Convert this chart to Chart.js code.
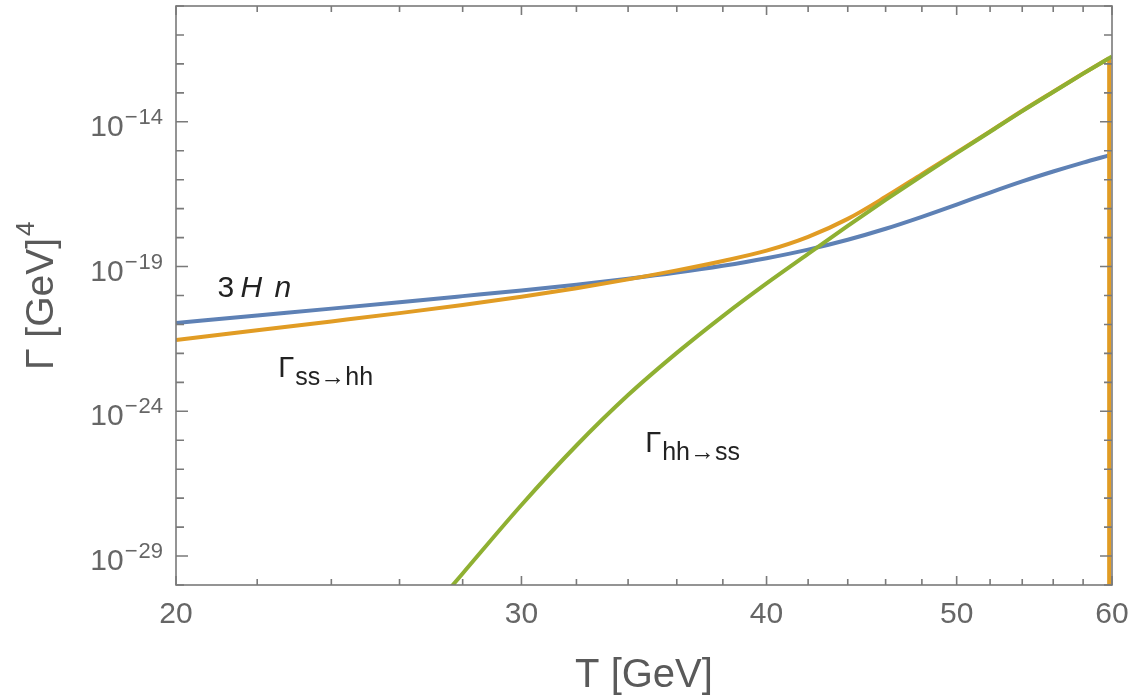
<!DOCTYPE html>
<html>
<head>
<meta charset="utf-8">
<title>Gamma vs T</title>
<script src="https://cdn.jsdelivr.net/npm/chart.js@4.4.0/dist/chart.umd.min.js"></script>
<style>
    html, body { margin: 0; padding: 0; background: #fff; }
    #rate-chart { display: block; }
</style>
</head>
<body>
<canvas id="rate-chart" width="1130" height="700"></canvas>
<script>
// T in GeV, rates in GeV^4
var tHubble = [20, 22, 24, 26, 28, 30, 32, 34, 36, 38, 40, 42, 44, 46, 48, 50, 52, 54, 56, 58, 59.8];
var rateHubble = [1.12e-21, 2.04e-21, 3.52e-21, 5.86e-21, 9.51e-21, 1.50e-20, 2.37e-20, 3.78e-20, 6.18e-20, 1.06e-19,
    1.94e-19, 3.85e-19, 8.43e-19, 2.02e-18, 5.22e-18, 1.38e-17, 3.61e-17, 8.75e-17, 1.92e-16, 3.91e-16, 6.95e-16];

var tSsHh = [20, 22, 24, 26, 28, 30, 32, 34, 36, 38, 40, 42, 44, 46, 48, 50, 52, 54, 56, 58, 59.8];
var rateSsHh = [2.92e-22, 6.25e-22, 1.27e-21, 2.46e-21, 4.69e-21, 9.08e-21, 1.79e-20, 3.60e-20, 7.36e-20, 1.56e-19,
    3.53e-19, 1.06e-18, 4.44e-18, 2.56e-17, 1.55e-16, 8.75e-16, 4.66e-15, 2.40e-14, 1.09e-13, 4.63e-13, 1.58e-12];
// the ss->hh curve falls straight down at its end
var tSsHhDrop = [59.8, 59.8];
var rateSsHhDrop = [1.58e-12, 1e-32];

var tHhSs = [27, 28, 30, 32, 34, 36, 38, 40, 42, 44, 46, 48, 50, 52, 54, 56, 58, 60];
var rateHhSs = [1.40e-31, 2.51e-30, 5.82e-28, 6.58e-26, 3.63e-24, 1.04e-22, 1.95e-21, 2.62e-20, 2.74e-19, 2.54e-18,
    2.01e-17, 1.37e-16, 8.28e-16, 4.55e-15, 2.34e-14, 1.07e-13, 4.60e-13, 1.81e-12];

var xTicks = [20, 22, 24, 26, 28, 30, 32, 34, 36, 38, 40, 42, 44, 46, 48, 50, 52, 54, 56, 58, 60];
var xLabels = [20, 30, 40, 50, 60];
var yTicks = [1e-30, 1e-29, 1e-28, 1e-27, 1e-26, 1e-25, 1e-24, 1e-23, 1e-22, 1e-21, 1e-20,
    1e-19, 1e-18, 1e-17, 1e-16, 1e-15, 1e-14, 1e-13, 1e-12, 1e-11, 1e-10];
var yLabelPowers = [-29, -24, -19, -14];

var SANS = '"Liberation Sans", Arial, Helvetica, sans-serif';
var BLUE = '#5E81B5', ORANGE = '#E19C24', GREEN = '#8FB032';

function toPoints(xs, ys) {
    var pts = [];
    for (var i = 0; i < xs.length; i++) {
        pts.push({ x: xs[i], y: ys[i] });
    }
    return pts;
}

function isLabelled(v) {
    return yLabelPowers.indexOf(Math.round(Math.log10(v))) >= 0;
}

function curve(label, xs, ys, color, order) {
    return {
        label: label,
        data: toPoints(xs, ys),
        borderColor: color,
        borderWidth: 4,
        pointRadius: 0,
        cubicInterpolationMode: 'monotone',
        order: order
    };
}

// frame with inward ticks, y labels with exponents, curve labels
var framePlugin = {
    id: 'frame',
    afterDatasetsDraw: function (chart) {
        var ctx = chart.ctx;
        var area = chart.chartArea;
        var xs = chart.scales.x;
        var ys = chart.scales.y;

        ctx.save();
        ctx.strokeStyle = '#7a7a7a';
        ctx.lineWidth = 1.6;
        ctx.strokeRect(area.left, area.top, area.right - area.left, area.bottom - area.top);

        ctx.beginPath();
        xTicks.forEach(function (v) {
            var px = xs.getPixelForValue(v);
            var len = xLabels.indexOf(v) >= 0 ? 9 : 6;
            ctx.moveTo(px, area.bottom);
            ctx.lineTo(px, area.bottom - len);
            ctx.moveTo(px, area.top);
            ctx.lineTo(px, area.top + len);
        });
        yTicks.forEach(function (v) {
            var py = ys.getPixelForValue(v);
            var len = isLabelled(v) ? 12 : 8;
            ctx.moveTo(area.left, py);
            ctx.lineTo(area.left + len, py);
            ctx.moveTo(area.right, py);
            ctx.lineTo(area.right - len, py);
        });
        ctx.stroke();

        // y tick labels 10^n
        ctx.fillStyle = '#666';
        ctx.textBaseline = 'alphabetic';
        ctx.textAlign = 'right';
        yLabelPowers.forEach(function (p) {
            var py = ys.getPixelForValue(Math.pow(10, p));
            var right = area.left - 13;
            ctx.font = '22px ' + SANS;
            var digits = String(Math.abs(p));
            ctx.fillText(digits, right, py + 2);
            var dw = ctx.measureText(digits).width;
            ctx.fillText('\u2212', right - dw - 1, py + 2);
            var mw = ctx.measureText('\u2212').width;
            ctx.font = '30px ' + SANS;
            ctx.fillText('10', right - dw - mw - 2, py + 14);
        });

        // y title
        ctx.save();
        ctx.translate(53, 370);
        ctx.rotate(-Math.PI / 2);
        ctx.textAlign = 'left';
        ctx.fillStyle = '#5a5a5a';
        ctx.font = '39px ' + SANS;
        ctx.fillText('\u0393 [GeV]', 0, 0);
        var tw = ctx.measureText('\u0393 [GeV]').width;
        ctx.font = '26px ' + SANS;
        ctx.fillText('4', tw + 2, -19);
        ctx.restore();

        // curve labels
        ctx.textAlign = 'left';
        ctx.fillStyle = '#222';
        var ax = xs.getPixelForValue(21.0);
        var ay = ys.getPixelForValue(8.9e-21);
        ctx.font = '30px ' + SANS;
        ctx.fillText('3', ax, ay);
        ctx.font = 'italic 30px ' + SANS;
        ctx.fillText('H', ax + 23, ay);
        ctx.fillText('n', ax + 57, ay);

        var bx = xs.getPixelForValue(22.55);
        var by = ys.getPixelForValue(1.55e-23);
        ctx.font = '29px ' + SANS;
        ctx.fillText('\u0393', bx, by);
        ctx.font = '25px ' + SANS;
        ctx.fillText('ss\u2192hh', bx + 17, by + 8);

        var cx = xs.getPixelForValue(34.69);
        var cy = ys.getPixelForValue(3.9e-26);
        ctx.font = '29px ' + SANS;
        ctx.fillText('\u0393', cx, cy);
        ctx.font = '25px ' + SANS;
        ctx.fillText('hh\u2192ss', cx + 17, cy + 8);
        ctx.restore();
    }
};

var ctx = document.getElementById('rate-chart').getContext('2d');
var rateChart = new Chart(ctx, {
    type: 'line',
    data: {
        datasets: [
            curve('3 H n', tHubble, rateHubble, BLUE, 4),
            curve('\u0393 ss\u2192hh', tSsHh, rateSsHh, ORANGE, 3),
            curve('\u0393 ss\u2192hh drop', tSsHhDrop, rateSsHhDrop, ORANGE, 3),
            curve('\u0393 hh\u2192ss', tHhSs, rateHhSs, GREEN, 1)
        ]
    },
    options: {
        responsive: false,
        devicePixelRatio: 1,
        animation: false,
        layout: { padding: { top: 6, right: 18, left: 0, bottom: 0 } },
        plugins: {
            legend: { display: false },
            tooltip: { enabled: false }
        },
        scales: {
            x: {
                type: 'logarithmic',
                position: 'bottom',
                min: 20,
                max: 60,
                afterBuildTicks: function (scale) {
                    scale.ticks = xTicks.map(function (v) { return { value: v }; });
                },
                afterFit: function (scale) {
                    scale.height = 115;
                    scale.paddingLeft = 0;
                    scale.paddingRight = 0;
                },
                grid: { display: false, drawTicks: false },
                border: { display: false },
                ticks: {
                    autoSkip: false,
                    maxRotation: 0,
                    padding: 12,
                    color: '#666',
                    font: { family: SANS, size: 30 },
                    callback: function (v) {
                        return xLabels.indexOf(v) >= 0 ? String(v) : '';
                    }
                },
                title: {
                    display: true,
                    text: 'T [GeV]',
                    color: '#5a5a5a',
                    font: { family: SANS, size: 40 },
                    padding: 0
                }
            },
            y: {
                type: 'logarithmic',
                min: 1e-30,
                max: 1e-10,
                afterBuildTicks: function (scale) {
                    scale.ticks = yTicks.map(function (v) { return { value: v }; });
                },
                afterFit: function (scale) { scale.width = 176; },
                grid: { display: false, drawTicks: false },
                border: { display: false },
                ticks: { display: false }
            }
        }
    },
    plugins: [framePlugin]
});
</script>
</body>
</html>
